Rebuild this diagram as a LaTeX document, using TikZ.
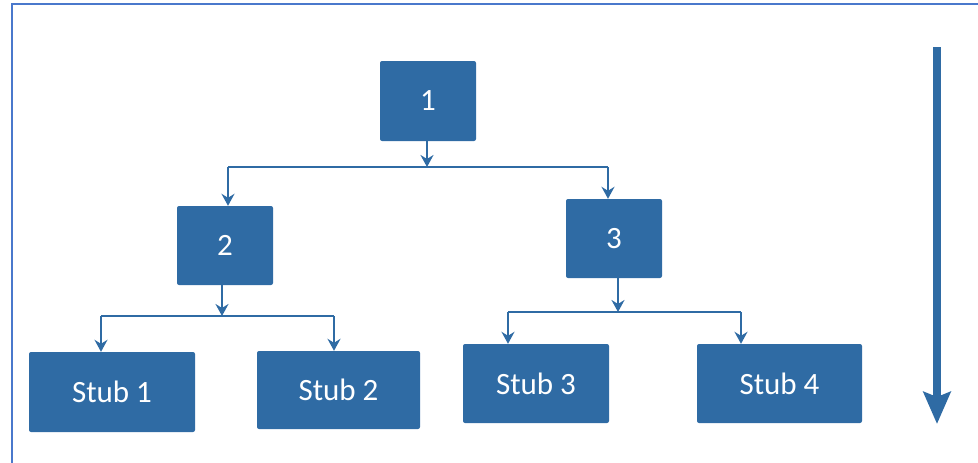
\documentclass[tikz,border=0pt]{standalone}
\usepackage{fontspec}
\setmainfont{Carlito}
\usetikzlibrary{arrows.meta}
\definecolor{boxblue}{HTML}{2F6BA4}
\definecolor{frameblue}{HTML}{4A78CC}
\tikzset{
  box/.style={fill=boxblue, text=white, rounded corners=2pt, inner sep=0pt,
    font=\fontsize{31}{35}\selectfont},
  conn/.style={draw=boxblue, line width=2pt},
  arr/.style={conn, -{Stealth[length=12pt, width=13pt, inset=4pt]}},
  bigarr/.style={draw=boxblue, line width=8pt,
    -{Stealth[length=32pt, width=27pt, inset=5pt]}},
  frame/.style={draw=frameblue, line width=2.5pt}
}
\begin{document}
\begin{tikzpicture}[x=1pt, y=-1pt]
  \useasboundingbox (0,0) rectangle (978,463);
  \begin{scope}
    \clip (0,0) rectangle (978,463);
    \draw[frame] (12,480) |- (1000,4);
  \end{scope}

  % modules
  \node[box, minimum width=96pt, minimum height=80pt] (n1) at (428,101) {1};
  \node[box, minimum width=96pt, minimum height=79pt] (n2) at (225,245.5) {2};
  \node[box, minimum width=96pt, minimum height=79pt] (n3) at (614,238.5) {3};
  \node[box, minimum width=166pt, minimum height=80pt] (s1) at (112,392) {Stub 1};
  \node[box, minimum width=163pt, minimum height=78pt] (s2) at (338.5,390) {Stub 2};
  \node[box, minimum width=146pt, minimum height=79pt] (s3) at (536,383.5) {Stub 3};
  \node[box, minimum width=165pt, minimum height=79pt] (s4) at (779.5,383.5) {Stub 4};

  % branch points
  \coordinate (j1) at (427,167);
  \coordinate (b1l) at (228,167);
  \coordinate (b1r) at (608,167);
  \coordinate (j2) at (222,316);
  \coordinate (b2l) at (101,316);
  \coordinate (b2r) at (334,316);
  \coordinate (j3) at (618,312);
  \coordinate (b3l) at (508,312);
  \coordinate (b3r) at (741,312);

  % level 1 -> level 2
  \draw[arr] (j1 |- n1.south) -- (j1);
  \draw[conn] (b1l) -- (b1r);
  \draw[arr] (b1l) -- (b1l |- n2.north);
  \draw[arr] (b1r) -- (b1r |- n3.north);

  % module 2 -> stubs
  \draw[arr] (j2 |- n2.south) -- (j2);
  \draw[conn] (b2l) -- (b2r);
  \draw[arr] (b2l) -- (b2l |- s1.north);
  \draw[arr] (b2r) -- (b2r |- s2.north);

  % module 3 -> stubs
  \draw[arr] (j3 |- n3.south) -- (j3);
  \draw[conn] (b3l) -- (b3r);
  \draw[arr] (b3l) -- (b3l |- s3.north);
  \draw[arr] (b3r) -- (b3r |- s4.north);

  % top-down direction
  \coordinate (dtop) at (937,47);
  \coordinate (dbot) at (937,424);
  \draw[bigarr] (dtop) -- (dbot);
\end{tikzpicture}
\end{document}
